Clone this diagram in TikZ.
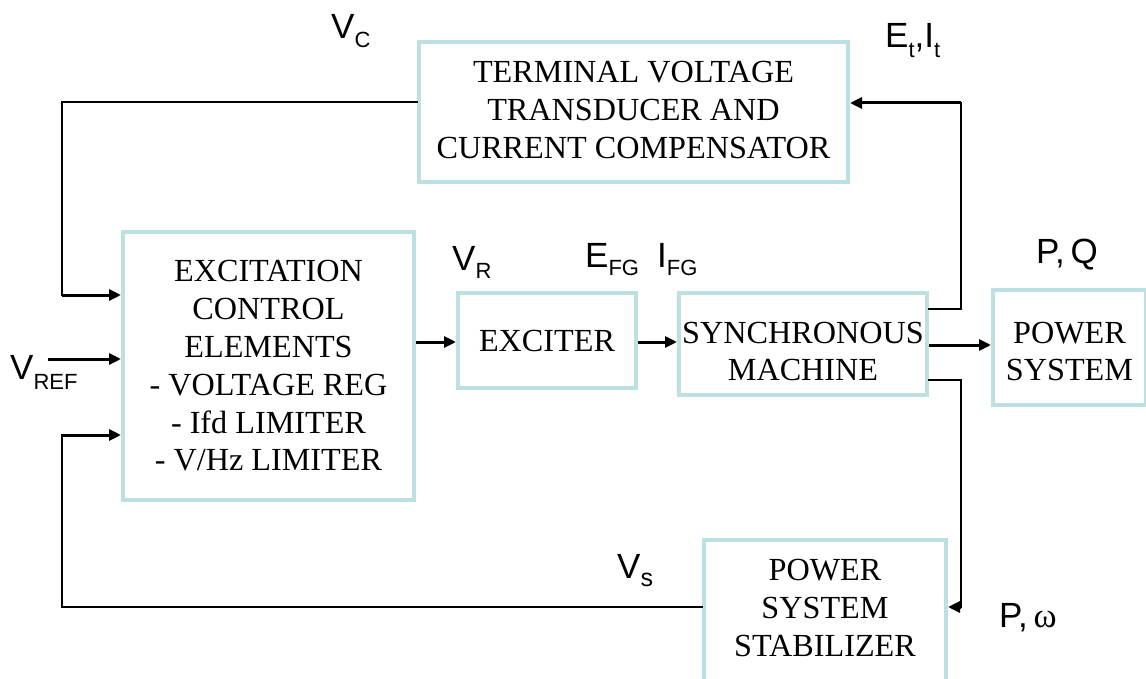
\documentclass[tikz,border=0pt]{standalone}
\usepackage{fontspec}
\setmainfont{Liberation Serif}
\newfontfamily\labfont{Liberation Sans}
\usetikzlibrary{arrows.meta}
\definecolor{bx}{HTML}{BDE0E3}
\newcommand{\sbs}[2]{\raisebox{-#1}{\fontsize{22}{22}\selectfont #2}}
\begin{document}
\begin{tikzpicture}[x=1pt,y=-1pt,
  blk/.style={draw=bx,line width=4pt,inner sep=0pt,align=center,
    font=\fontsize{32.2}{37.8}\selectfont},
  fb/.style={line width=2pt,line cap=rect},
  arr/.style={line width=3pt,-{Triangle[length=12pt,width=11pt]}},
  lab/.style={anchor=base west,inner sep=0pt,font=\labfont\fontsize{35}{35}\selectfont}]
\useasboundingbox (0,0) rectangle (1146,679);
% blocks
\node[blk,minimum width=429pt,minimum height=140pt,text depth=4pt] (term) at (633.5,112)
  {TERMINAL VOLTAGE\\TRANSDUCER AND\\CURRENT COMPENSATOR};
\node[blk,minimum width=291pt,minimum height=268pt] (exc) at (268.5,366)
  {EXCITATION\\CONTROL\\ELEMENTS\\- VOLTAGE REG\\- Ifd LIMITER\\- V/Hz LIMITER};
\node[blk,minimum width=178pt,minimum height=95pt] (exr) at (547,340.5) {EXCITER};
\node[blk,minimum width=248pt,minimum height=102pt,text height=74pt] (syn) at (803,344)
  {SYNCHRONOUS\\MACHINE};
\node[blk,minimum width=153pt,minimum height=115pt,text height=67pt] (psys) at (1069.5,347.5)
  {POWER\\SYSTEM};
\node[blk,minimum width=242pt,minimum height=148pt,text depth=12pt] (pss) at (825,614)
  {POWER\\SYSTEM\\STABILIZER};
% labels
\node[lab] (vc) at (331,39) {V\sbs{9pt}{C}};
\node[lab] (etit) at (885,48) {E\sbs{10pt}{t},I\sbs{10pt}{t}};
\node[lab] (vr) at (452,270) {V\sbs{9pt}{R}};
\node[lab] (efg) at (585,267) {E\sbs{8pt}{FG}\hspace{18pt}I\sbs{8pt}{FG}};
\node[lab] (pq) at (1036,264) {P,\,Q};
\node[lab] (vref) at (10,379) {V\sbs{10pt}{REF}};
\node[lab] (vs) at (617,578) {V\sbs{8pt}{\fontsize{25}{25}\selectfont s}};
\node[lab] (pw) at (999,627) {P,\,{\rmfamily ω}};
% coordinates
\coordinate (a1) at (62,102);
\coordinate (a2) at (62,295);
\coordinate (r0) at (48,359);
\coordinate (s1) at (62,607);
\coordinate (s2) at (62,435);
\coordinate (b1) at (961,309);
\coordinate (b2) at (961,103);
\coordinate (c1) at (961,380);
\coordinate (c2) at (961,607);
% connectors
\draw[fb] (term.west |- a1) -- (a1) -- (a2);
\draw[arr] (a2) -- (exc.west |- a2);
\draw[arr] (r0) -- (exc.west |- r0);
\draw[fb] (pss.west |- s1) -- (s1) -- (s2);
\draw[arr] (s2) -- (exc.west |- s2);
\draw[arr] (exc.east |- 0,342) -- (exr.west |- 0,342);
\draw[arr] (exr.east |- 0,342) -- (syn.west |- 0,342);
\draw[arr] (syn.east |- 0,345) -- (psys.west |- 0,345);
\draw[fb] (syn.east |- b1) -- (b1) -- (b2);
\draw[arr] (b2) -- (term.east |- b2);
\draw[fb] (syn.east |- c1) -- (c1) -- (c2);
\draw[arr] (c2) -- (pss.east |- c2);
\end{tikzpicture}
\end{document}
